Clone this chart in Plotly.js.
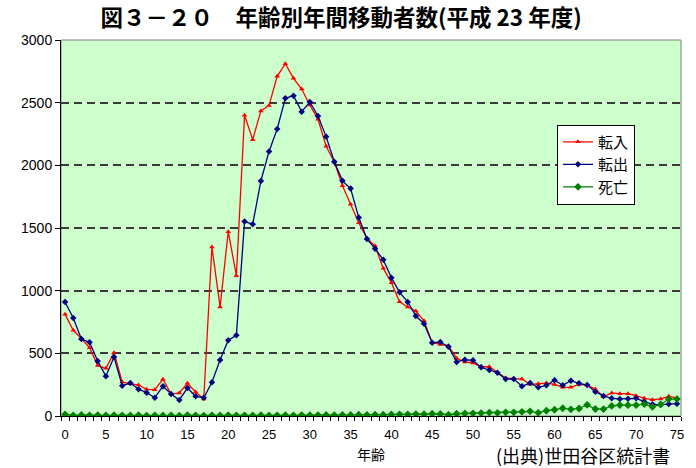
<!DOCTYPE html>
<html>
<head>
<meta charset="utf-8">
<script src="https://cdn.plot.ly/plotly-3.0.1.min.js"></script>
<style>
html,body{margin:0;padding:0;background:#fff;}
#chart{width:696px;height:468px;}
</style>
</head>
<body>
<div id="chart"></div>
<script>
// ages 0..75
const ages = [0,1,2,3,4,5,6,7,8,9,10,11,12,13,14,15,16,17,18,19,20,21,22,23,24,25,26,27,28,29,30,31,32,33,34,35,36,37,38,39,40,41,42,43,44,45,46,47,48,49,50,51,52,53,54,55,56,57,58,59,60,61,62,63,64,65,66,67,68,69,70,71,72,73,74,75];

// 転入 (move-in)
const moveIn = [811,684,617,545,402,380,505,271,258,247,213,210,293,175,184,261,192,136,1349,870,1471,1120,2399,2205,2434,2478,2710,2811,2694,2609,2481,2367,2152,2027,1837,1690,1542,1418,1356,1178,1064,912,870,838,760,585,570,560,460,431,423,393,393,346,303,298,295,253,258,263,252,229,229,253,247,215,154,184,178,178,162,141,130,136,157,144];

// 転出 (move-out)
const moveOut = [910,782,614,588,439,317,471,242,263,213,186,146,238,175,128,223,157,146,269,447,604,644,1551,1530,1875,2111,2290,2535,2556,2428,2505,2394,2229,2029,1876,1815,1583,1412,1335,1247,1104,987,910,798,736,585,590,553,431,449,444,388,367,346,295,295,237,263,229,245,285,245,282,261,247,194,160,141,136,138,141,114,93,90,96,98];

// 死亡 (deaths)
const deaths = [12,5,8,5,7,4,6,5,4,6,3,5,4,5,3,6,4,3,5,4,6,4,5,5,6,4,5,6,5,7,6,7,8,7,9,8,10,9,11,10,12,13,12,15,14,18,16,10,18,20,21,23,27,25,29,29,33,37,25,42,50,62,53,60,89,56,55,80,87,86,87,94,73,92,135,135];

const seriesNames = ['転入','転出','死亡'];
const xTickVals = [0,5,10,15,20,25,30,35,40,45,50,55,60,65,70,75];
const yTickVals = [0,500,1000,1500,2000,2500,3000];

const traces = [
  {x: ages, y: moveIn, name: seriesNames[0], type: 'scatter', mode: 'lines+markers',
   line: {color: '#FF0000', width: 1.3},
   marker: {symbol: 'triangle-up', size: 5, color: '#FF0000'}},
  {x: ages, y: moveOut, name: seriesNames[1], type: 'scatter', mode: 'lines+markers',
   line: {color: '#000080', width: 1.3},
   marker: {symbol: 'diamond', size: 5, color: '#000080'}},
  {x: ages, y: deaths, name: seriesNames[2], type: 'scatter', mode: 'lines+markers',
   line: {color: '#008000', width: 1.3},
   marker: {symbol: 'diamond', size: 6, color: '#008000'}}
];

const layout = {
  width: 696, height: 468,
  margin: {l: 61, r: 15, t: 40, b: 52},
  paper_bgcolor: '#FFFFFF',
  plot_bgcolor: '#CCFFCC',
  font: {family: 'Liberation Sans, Arial, sans-serif', color: '#000', size: 13},
  title: {
    text: '<b>図３－２０　年齢別年間移動者数(平成 23 年度)</b>',
    font: {family: 'Noto Sans CJK JP', size: 22.5, color: '#000'},
    x: 0.49, xref: 'container', xanchor: 'center',
    y: 0.962, yref: 'container', yanchor: 'middle'
  },
  xaxis: {
    range: [-0.5, 75.5],
    tickvals: xTickVals,
    ticks: '', showgrid: false, zeroline: false,
    showline: true, linecolor: '#000', linewidth: 1,
    tickfont: {size: 13, family: 'Liberation Sans, Arial'},
    ticklabelstandoff: 6,
    minor: {tick0: -0.5, dtick: 1, ticks: 'outside', ticklen: 4, tickcolor: '#000', showgrid: false},
    title: {text: '年齢', font: {family: 'Noto Sans CJK JP', size: 14}, standoff: 9}
  },
  yaxis: {
    range: [0, 3000],
    tickvals: yTickVals,
    ticks: 'outside', ticklen: 5, tickcolor: '#000',
    showline: true, linecolor: '#000', linewidth: 1,
    showgrid: true, gridcolor: '#3a3a3a', gridwidth: 2, griddash: '8px,5px',
    zeroline: false,
    tickfont: {size: 14, family: 'Liberation Sans, Arial'}
  },
  legend: {
    x: 0.80, y: 0.775, xanchor: 'left', yanchor: 'top',
    bgcolor: '#FFFFFF', bordercolor: '#000', borderwidth: 1,
    font: {family: 'Noto Sans CJK JP', size: 15},
    itemwidth: 30, tracegroupgap: 0
  },
  shapes: [
    {type: 'rect', xref: 'paper', yref: 'paper', x0: 0, x1: 1, y0: 0, y1: 1,
     line: {color: '#808080', width: 1}, layer: 'below'}
  ],
  annotations: [
    {text: '(出典)世田谷区統計書', xref: 'paper', yref: 'paper',
     x: 0.985, y: -0.104, xanchor: 'right', yanchor: 'middle', showarrow: false,
     font: {family: 'Noto Sans CJK JP', size: 18, color: '#000'}}
  ],
  showlegend: true
};

Plotly.newPlot('chart', traces, layout, {displayModeBar: false, staticPlot: true});
</script>
</body>
</html>
